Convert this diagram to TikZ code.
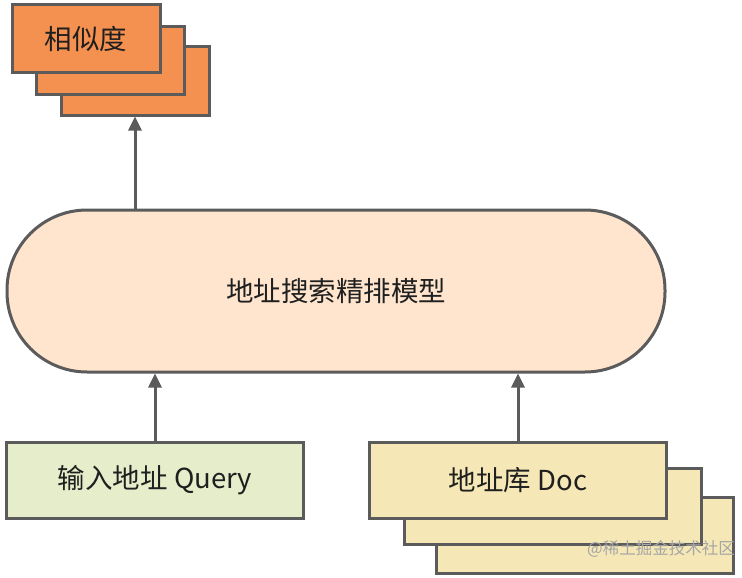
\documentclass[tikz,border=0pt]{standalone}
\usepackage{fontspec}
\setmainfont{Noto Sans CJK SC}
\usetikzlibrary{arrows.meta}
\definecolor{edge}{HTML}{5B5B5B}
\definecolor{simfill}{HTML}{F59150}
\definecolor{modfill}{HTML}{FFE5CE}
\definecolor{qfill}{HTML}{E5EDCA}
\definecolor{dfill}{HTML}{F5E8B6}
\tikzset{
  card/.style={draw=edge, line width=3pt, rectangle, inner sep=0pt, font=\fontsize{27.5}{32}\selectfont, text=black!88},
  simcard/.style={card, fill=simfill, minimum width=148pt, minimum height=68pt},
  inbox/.style={card, minimum width=297pt, minimum height=76pt},
  arr/.style={draw=edge, line width=3pt, -{Triangle[length=14pt,width=13pt]}},
}
\begin{document}
\begin{tikzpicture}[x=1pt,y=-1pt]
\useasboundingbox (0,0) rectangle (742,578);
% similarity stack
\node[simcard] (simback) at (135,81) {};
\node[simcard] (simmid) at (110,61) {};
\node[simcard] (sim) at (86,39) {相似度};
% model
\node[draw=edge, line width=3pt, fill=modfill, rectangle, rounded corners=80pt,
      minimum width=658pt, minimum height=162pt, inner sep=0pt,
      font=\fontsize{27.5}{32}\selectfont, text=black!88] (model) at (336,291) {地址搜索精排模型};
% query
\node[inbox, fill=qfill] (q) at (155,480) {输入地址 Query};
% doc stack
\node[inbox, fill=dfill] (docback) at (585,535) {};
\node[inbox, fill=dfill] (docmid) at (553,506) {};
\node[inbox, fill=dfill] (doc) at (518,480) {地址库 Doc};
% watermark
\node[font=\fontsize{16.5}{19}\selectfont, text=black!35, anchor=east, inner sep=0pt] (wm) at (735,549) {@稀土掘金技术社区};
% arrows
\draw[arr] (simback.south |- model.north) -- (simback.south);
\draw[arr] (q.north) -- (q.north |- model.south);
\draw[arr] (doc.north) -- (doc.north |- model.south);
\end{tikzpicture}
\end{document}
